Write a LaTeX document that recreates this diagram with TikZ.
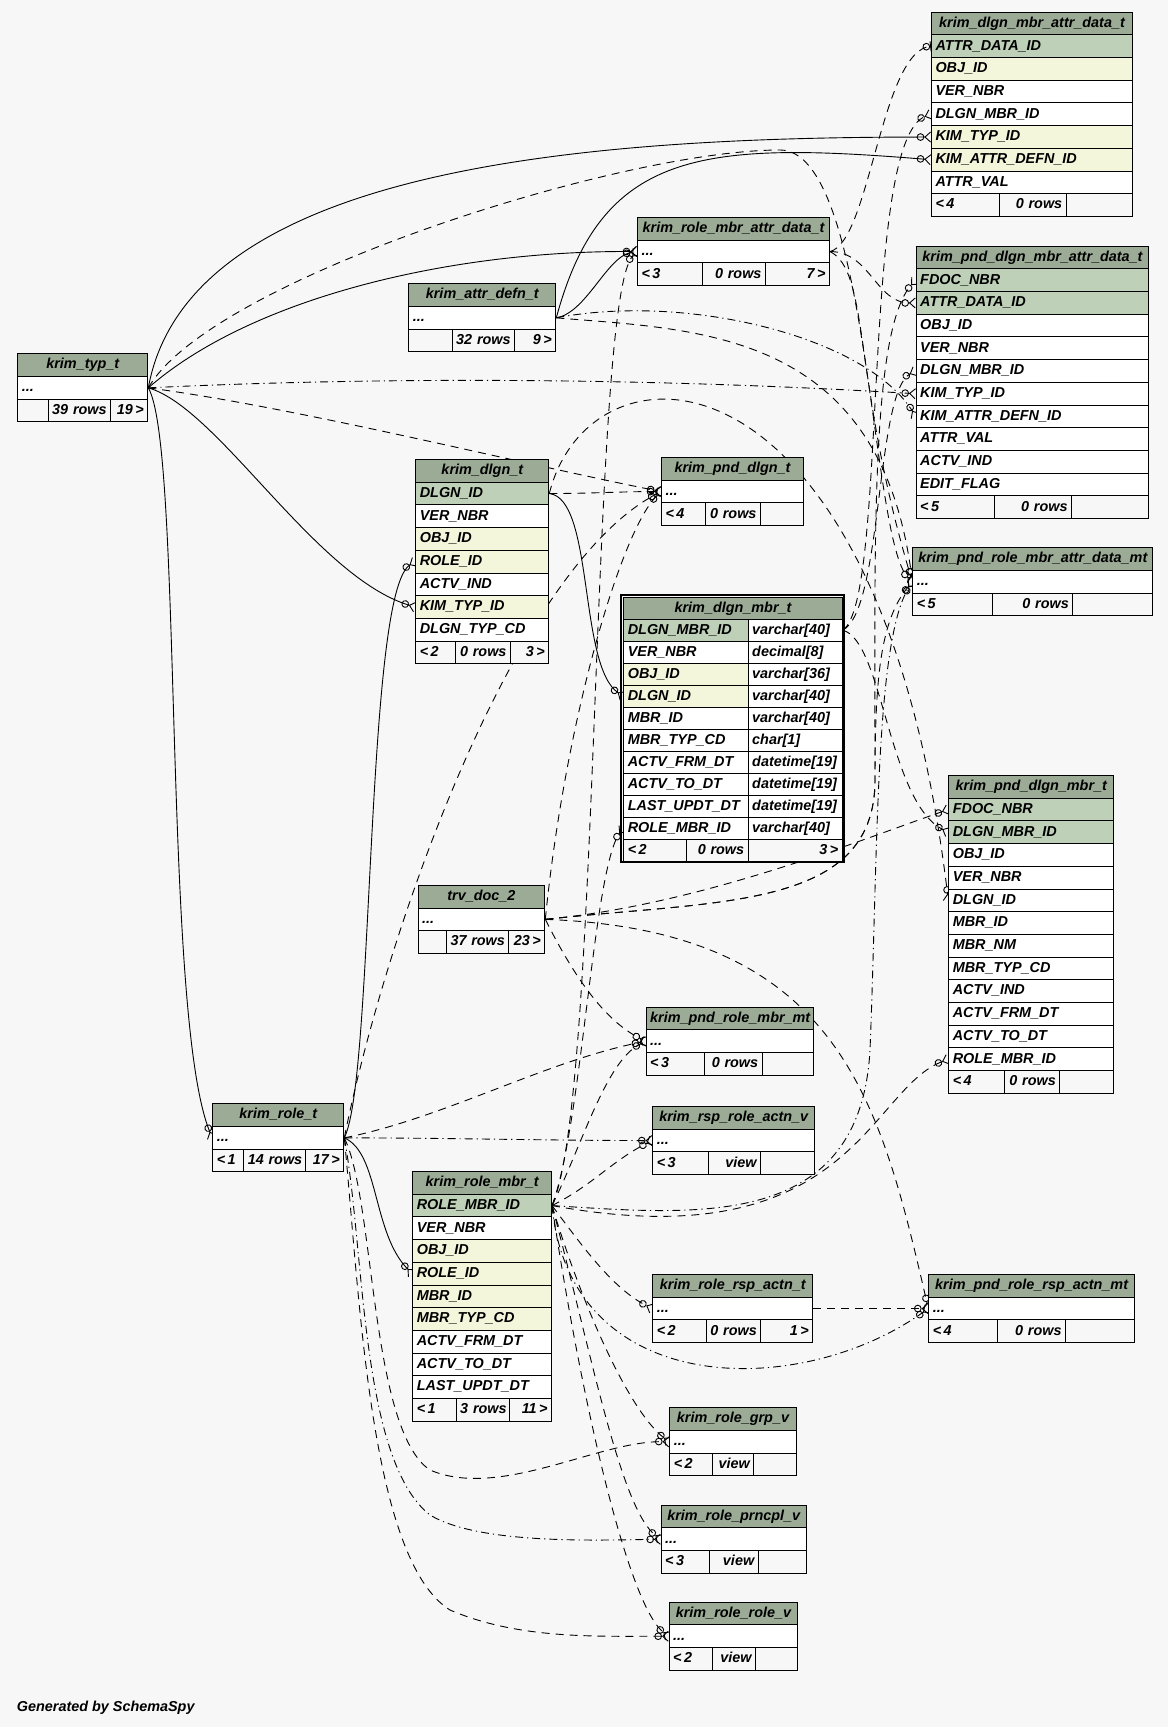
\documentclass[tikz,border=0pt]{standalone}
\usepackage{fontspec}
\setmainfont{Liberation Sans}
\usetikzlibrary{arrows.meta,backgrounds}
\definecolor{ssBg}{HTML}{F7F7F7}
\definecolor{ssHead}{HTML}{9BAB96}
\definecolor{ssKey}{HTML}{BED1B8}
\definecolor{ssIdx}{HTML}{F4F6DC}
\tikzset{
  ssCell/.style={draw=black,line width=0.5pt,inner xsep=2pt,inner ysep=0pt,
    minimum height=\ssrh*0.5pt,anchor=north west,
    font=\fontsize{7.2}{8}\selectfont\bfseries\itshape,
    text height=5.4pt,text depth=1.6pt},
  ssNote/.style={inner sep=0pt,font=\fontsize{7.2}{8}\selectfont\bfseries\itshape},
  ssFk/.style={line width=0.45pt,
    -{Circle[open,length=3.8pt,width=3.8pt] Straight Barb[reversed,length=2.8pt,width=5pt]}},
  ssImp/.style={ssFk,dash pattern=on 4pt off 3pt},
  ssImpDot/.style={ssFk,dash pattern=on 4pt off 2pt on 0.6pt off 2pt},
  ssOne/.style={line width=0.45pt,dash pattern=on 4pt off 3pt,
    -{Circle[open,length=3.8pt,width=3.8pt] Bar[width=5pt]}}
}
\def\ssrh{22.7}
\def\ssdots{...}
% one cell: name, x, y (top), width, options, text
\newcommand{\sscell}[6]{%
  \pgfmathsetmacro{\sstw}{(#4)*0.5-4}%
  \node[ssCell,#5,text width=\sstw pt] (#1) at (#2,#3) {#6};}
% header and column rows: id, x, y, width, title, rows
\newcommand{\sstable}[6]{%
  \sscell{#1-h}{#2}{#3}{#4}{fill=ssHead,align=center}{#5}
  \foreach \sstxt/\ssfill [count=\ssi] in {#6}{%
    \pgfmathsetmacro{\ssy}{#3+\ssi*\ssrh}%
    \sscell{#1-\ssi}{#2}{\ssy}{#4}{fill=\ssfill,align=left}{\sstxt}}}
% footer: id, x, y, divider 1, divider 2, right edge, three texts
\newcommand{\ssfoot}[9]{%
  \sscell{#1-fa}{#2}{#3}{#4-#2}{fill=ssBg,align=left}{\mbox{#7}}
  \sscell{#1-fb}{#4}{#3}{#5-#4}{fill=ssBg,align=right}{\mbox{#8}}
  \sscell{#1-fc}{#5}{#3}{#6-#5}{fill=ssBg,align=right}{\mbox{#9}}}

\begin{document}
\begin{tikzpicture}[x=0.5pt,y=-0.5pt]
\useasboundingbox (0,0) rectangle (1168,1727);

% tables
\sstable{dmad}{931}{11.7}{201}{krim\_dlgn\_mbr\_attr\_data\_t}{ATTR\_DATA\_ID/ssKey, OBJ\_ID/ssIdx,
  VER\_NBR/white, DLGN\_MBR\_ID/white, KIM\_TYP\_ID/ssIdx, KIM\_ATTR\_DEFN\_ID/ssIdx, ATTR\_VAL/white}
\ssfoot{dmad}{931}{11.7+8*22.7}{999.3}{1065.7}{1132}{<\,4}{0 rows}{}

\sstable{pdmad}{915.7}{245.7}{232.6}{krim\_pnd\_dlgn\_mbr\_attr\_data\_t}{FDOC\_NBR/ssKey,
  ATTR\_DATA\_ID/ssKey, OBJ\_ID/white, VER\_NBR/white, DLGN\_MBR\_ID/white, KIM\_TYP\_ID/white,
  KIM\_ATTR\_DEFN\_ID/white, ATTR\_VAL/white, ACTV\_IND/white, EDIT\_FLAG/white}
\ssfoot{pdmad}{915.7}{245.7+11*22.7}{994}{1071}{1148.3}{<\,5}{0 rows}{}

\sstable{rmad}{637}{217}{192}{krim\_role\_mbr\_attr\_data\_t}{\ssdots/white}
\ssfoot{rmad}{637}{217+2*22.7}{702}{765}{829}{<\,3}{0 rows}{7\,>}

\sstable{attr}{408.3}{283.3}{147}{krim\_attr\_defn\_t}{\ssdots/white}
\ssfoot{attr}{408.3}{283.3+2*22.7}{451.7}{513.7}{555.3}{}{32 rows}{9\,>}

\sstable{typ}{17.3}{353.3}{130}{krim\_typ\_t}{\ssdots/white}
\ssfoot{typ}{17.3}{353.3+2*22.7}{47.7}{109.7}{147.3}{}{39 rows}{19\,>}

\sstable{dlgn}{415.3}{459}{133}{krim\_dlgn\_t}{DLGN\_ID/ssKey, VER\_NBR/white, OBJ\_ID/ssIdx,
  ROLE\_ID/ssIdx, ACTV\_IND/white, KIM\_TYP\_ID/ssIdx, DLGN\_TYP\_CD/white}
\ssfoot{dlgn}{415.3}{459+8*22.7}{455}{510}{548.3}{<\,2}{0 rows}{3\,>}

\sstable{pdlgn}{661}{457}{142}{krim\_pnd\_dlgn\_t}{\ssdots/white}
\ssfoot{pdlgn}{661}{457+2*22.7}{705}{760}{803}{<\,4}{0 rows}{}

\def\ssrh{22}
\sscell{dmbr-h}{623.3}{596.7}{218.4}{fill=ssHead,align=center}{krim\_dlgn\_mbr\_t}
\foreach \sstxt/\sstyp/\ssfill [count=\ssi] in {DLGN\_MBR\_ID/varchar[40]/ssKey,
  VER\_NBR/decimal[8]/white, OBJ\_ID/varchar[36]/ssIdx, DLGN\_ID/varchar[40]/ssIdx,
  MBR\_ID/varchar[40]/white, MBR\_TYP\_CD/char[1]/white, ACTV\_FRM\_DT/datetime[19]/white,
  ACTV\_TO\_DT/datetime[19]/white, LAST\_UPDT\_DT/datetime[19]/white, ROLE\_MBR\_ID/varchar[40]/white}{
  \pgfmathsetmacro{\ssy}{596.7+\ssi*22}
  \sscell{dmbr-\ssi}{623.3}{\ssy}{124.4}{fill=\ssfill,align=left}{\sstxt}
  \sscell{dmbr-\ssi-t}{747.7}{\ssy}{94}{fill=white,align=left}{\sstyp}
}
\ssfoot{dmbr}{623.3}{596.7+11*22}{685.7}{747.7}{841.7}{<\,2}{0 rows}{3\,>}
\draw[line width=1pt] (620.7,594.7) rectangle (844.3,862.3);
\def\ssrh{22.7}

\sstable{prmad}{912.4}{547.3}{240}{krim\_pnd\_role\_mbr\_attr\_data\_mt}{\ssdots/white}
\ssfoot{prmad}{912.4}{547.3+2*22.7}{992.3}{1072.3}{1152.4}{<\,5}{0 rows}{}

\sstable{pdmbr}{948.3}{775}{165}{krim\_pnd\_dlgn\_mbr\_t}{FDOC\_NBR/ssKey, DLGN\_MBR\_ID/ssKey,
  OBJ\_ID/white, VER\_NBR/white, DLGN\_ID/white, MBR\_ID/white, MBR\_NM/white, MBR\_TYP\_CD/white,
  ACTV\_IND/white, ACTV\_FRM\_DT/white, ACTV\_TO\_DT/white, ROLE\_MBR\_ID/white}
\ssfoot{pdmbr}{948.3}{775+13*22.7}{1004.3}{1059.3}{1113.3}{<\,4}{0 rows}{}

\sstable{trv}{417.6}{884.8}{126.7}{trv\_doc\_2}{\ssdots/white}
\ssfoot{trv}{417.6}{884.8+2*22.7}{446}{508}{544.3}{}{37 rows}{23\,>}

\sstable{prm}{645.7}{1006.7}{167.6}{krim\_pnd\_role\_mbr\_mt}{\ssdots/white}
\ssfoot{prm}{645.7}{1006.7+2*22.7}{704.3}{761.7}{813.3}{<\,3}{0 rows}{}

\sstable{rspv}{652.3}{1106}{162}{krim\_rsp\_role\_actn\_v}{\ssdots/white}
\ssfoot{rspv}{652.3}{1106+2*22.7}{707.7}{760}{814.3}{<\,3}{view}{}

\sstable{role}{212.3}{1103.3}{131}{krim\_role\_t}{\ssdots/white}
\ssfoot{role}{212.3}{1103.3+2*22.7}{243.3}{305.3}{343.3}{<\,1}{14 rows}{17\,>}

\sstable{rmbr}{412.3}{1171}{138.7}{krim\_role\_mbr\_t}{ROLE\_MBR\_ID/ssKey, VER\_NBR/white,
  OBJ\_ID/ssIdx, ROLE\_ID/ssIdx, MBR\_ID/ssIdx, MBR\_TYP\_CD/ssIdx, ACTV\_FRM\_DT/white,
  ACTV\_TO\_DT/white, LAST\_UPDT\_DT/white}
\ssfoot{rmbr}{412.3}{1171+10*22.7}{455.7}{509.3}{551}{<\,1}{3 rows}{11\,>}

\sstable{rra}{652.3}{1274}{160}{krim\_role\_rsp\_actn\_t}{\ssdots/white}
\ssfoot{rra}{652.3}{1274+2*22.7}{705.7}{760.3}{812.3}{<\,2}{0 rows}{1\,>}

\sstable{prra}{928.3}{1274}{205.7}{krim\_pnd\_role\_rsp\_actn\_mt}{\ssdots/white}
\ssfoot{prra}{928.3}{1274+2*22.7}{997}{1065}{1134}{<\,4}{0 rows}{}

\sstable{grp}{669.3}{1407.3}{126.4}{krim\_role\_grp\_v}{\ssdots/white}
\ssfoot{grp}{669.3}{1407.3+2*22.7}{712.3}{753.3}{795.7}{<\,2}{view}{}

\sstable{prn}{660.7}{1504.7}{145}{krim\_role\_prncpl\_v}{\ssdots/white}
\ssfoot{prn}{660.7}{1504.7+2*22.7}{709.3}{757.7}{805.7}{<\,3}{view}{}

\sstable{rrv}{668.7}{1601.7}{128.6}{krim\_role\_role\_v}{\ssdots/white}
\ssfoot{rrv}{668.7}{1601.7+2*22.7}{712.3}{755}{797.3}{<\,2}{view}{}

\node[ssNote,anchor=west] (credit) at (16.5,1708) {Generated by SchemaSpy};

% relationships
\begin{scope}[on background layer]
\fill[ssBg] (0,0) rectangle (1168,1727);
% real foreign keys
\draw[ssFk] (typ-1.east) .. controls +(40,-220) and +(-350,0) .. (dmad-5.west);
\draw[ssFk] (attr-1.east) .. controls +(45,-167) and +(-231,-19) .. (dmad-6.west);
\draw[ssFk] (typ-1.east) .. controls +(103,-90) and +(-187,-1) .. (rmad-1.west);
\draw[ssFk] (attr-1.east) .. controls +(30,-5) and +(-30,5) .. (rmad-1.west);
\draw[ssFk] (typ-1.east) .. controls +(35,60) and +(-50,-120) .. (role-1.west);
\draw[ssFk] (typ-1.east) .. controls +(70,20) and +(-100,-30) .. (dlgn-6.west);
\draw[ssFk] (role-1.east) .. controls +(30,-60) and +(-50,30) .. (dlgn-4.west);
\draw[ssFk] (role-1.east) .. controls +(35,15) and +(-40,-40) .. (rmbr-4.west);
\draw[ssFk] (dlgn-1.east) .. controls +(45,5) and +(-45,-30) .. (dmbr-4.west);
% implied by name
\draw[ssOne] (rmad-1.east) .. controls +(40,-10) and +(-50,5) .. (dmad-1.west);
\draw[ssImp] (dmbr-1-t.east) .. controls +(46,-30) and +(-71,26) .. (dmad-4.west);
\draw[ssImp] (rmbr-1.east) .. controls +(49,-105) and +(-47,49) .. (rmad-1.west);
\draw[ssImp] (trv-1.east) .. controls (720,900) and (875,910) .. (875,780)
  .. controls (875,550) and (870,330) .. (pdmad-1.west);
\draw[ssImp] (rmad-1.east) .. controls +(40,0) and +(-40,0) .. (pdmad-2.west);
\draw[ssImp] (dmbr-1-t.east) .. controls +(40,-20) and +(-40,20) .. (pdmad-5.west);
\draw[ssImpDot] (typ-1.east) .. controls +(250,-12) and +(-250,-15) .. (pdmad-6.west);
\draw[ssImpDot] (attr-1.east) .. controls +(130,-25) and +(-50,-80) .. (pdmad-7.west);
\draw[ssImp] (trv-1.east) .. controls (720,900) and (875,910) .. (875,780)
  .. controls (875,680) and (880,620) .. (prmad-1.west);
\draw[ssImp] (typ-1.east) .. controls (210,280) and (620,150) .. (780,150)
  .. controls (870,150) and (870,540) .. (prmad-1.west);
\draw[ssImp] (attr-1.east) .. controls (700,330) and (880,330) .. (prmad-1.west);
\draw[ssImp] (rmad-1.east) .. controls +(40,20) and +(-60,-200) .. (prmad-1.west);
\draw[ssImpDot] (rmbr-1.east) .. controls (700,1215) and (860,1230) .. (870,1050)
  .. controls (878,850) and (875,640) .. (prmad-1.west);
\draw[ssImp] (dlgn-1.east) .. controls +(40,0) and +(-40,0) .. (pdlgn-1.west);
\draw[ssImp] (trv-1.east) .. controls +(20,-200) and +(-40,40) .. (pdlgn-1.west);
\draw[ssImp] (typ-1.east) .. controls +(150,20) and +(-150,-30) .. (pdlgn-1.west);
\draw[ssImp] (role-1.east) .. controls +(40,-200) and +(-150,80) .. (pdlgn-1.west);
\draw[ssImp] (rmbr-1.east) .. controls +(30,-80) and +(-30,40) .. (dmbr-10.west);
\draw[ssImp] (trv-1.east) .. controls (700,905) and (860,840) .. (pdmbr-1.west);
\draw[ssImp] (dmbr-1-t.east) .. controls +(40,10) and +(-60,-30) .. (pdmbr-2.west);
\draw[ssImp] (dlgn-1.east) .. controls (590,330) and (880,330) .. (pdmbr-5.west);
\draw[ssImp] (rmbr-1.east) .. controls +(299,55) and +(-80,30) .. (pdmbr-12.west);
\draw[ssImp] (trv-1.east) .. controls +(30,60) and +(-40,-20) .. (prm-1.west);
\draw[ssImp] (role-1.east) .. controls +(100,-20) and +(-100,20) .. (prm-1.west);
\draw[ssImp] (rmbr-1.east) .. controls +(30,-60) and +(-40,20) .. (prm-1.west);
\draw[ssImpDot] (role-1.east) .. controls +(100,0) and +(-100,0) .. (rspv-1.west);
\draw[ssImp] (rmbr-1.east) .. controls +(40,-20) and +(-40,20) .. (rspv-1.west);
\draw[ssImp] (rmbr-1.east) .. controls +(30,40) and +(-40,-20) .. (rra-1.west);
\draw[ssImp] (rra-1.east) -- (prra-1.west);
\draw[ssImp] (trv-1.east) .. controls (840,930) and (880,1100) .. (prra-1.west);
\draw[ssImpDot] (rmbr-1.east) .. controls (570,1400) and (800,1400) .. (prra-1.west);
\draw[ssImp] (role-1.east) .. controls (375,1200) and (370,1430) .. (430,1470)
  .. controls (500,1500) and (600,1440) .. (grp-1.west);
\draw[ssImp] (rmbr-1.east) .. controls +(30,100) and +(-40,-30) .. (grp-1.west);
\draw[ssImpDot] (role-1.east) .. controls (365,1250) and (360,1460) .. (430,1515)
  .. controls (480,1545) and (600,1540) .. (prn-1.west);
\draw[ssImp] (rmbr-1.east) .. controls +(40,150) and +(-40,-30) .. (prn-1.west);
\draw[ssImp] (role-1.east) .. controls (360,1300) and (370,1560) .. (450,1610)
  .. controls (520,1640) and (600,1636) .. (rrv-1.west);
\draw[ssImp] (rmbr-1.east) .. controls +(30,200) and +(-40,-30) .. (rrv-1.west);
\end{scope}
\end{tikzpicture}
\end{document}
